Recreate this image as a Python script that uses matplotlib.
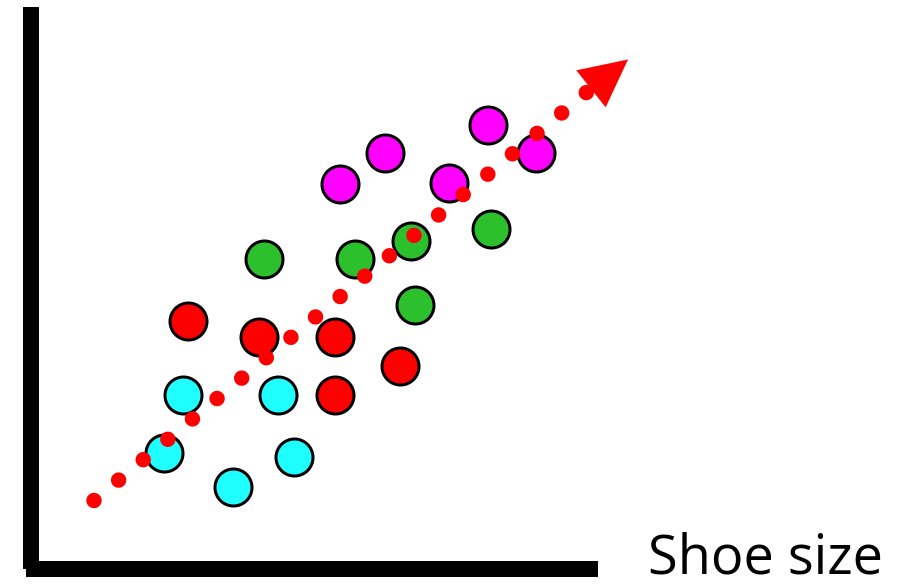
import matplotlib
matplotlib.use("Agg")
import matplotlib.pyplot as plt
from matplotlib.patches import FancyArrowPatch, ArrowStyle

# Point positions (x = shoe size axis units, y = vertical axis units)
cyan_x = [133, 152, 202, 247, 263]
cyan_y = [116, 174, 82, 174, 112]

red_x = [157, 228, 304, 369, 304]
red_y = [248, 232, 232, 203, 174]

green_x = [233, 324, 380, 384, 460]
green_y = [310, 310, 328, 264, 340]

magenta_x = [309, 354, 418, 457, 505]
magenta_y = [385, 416, 386, 444, 416]

# Trend line: start, end of dotted part, arrow tip
trend_x = [63, 556]
trend_y = [68, 476.5]
arrow_tip = (597, 509)

AX_W, AX_H = 878, 561.5

fig = plt.figure(figsize=(9.09, 5.88), dpi=100)
ax = fig.add_axes([31 / 909, 19.5 / 588, AX_W / 909, AX_H / 588])
ax.set_xlim(0, AX_W)
ax.set_ylim(0, AX_H)
ax.set_xticks([])
ax.set_yticks([])
for side in ("top", "right"):
    ax.spines[side].set_visible(False)
for side in ("left", "bottom"):
    sp = ax.spines[side]
    sp.set_linewidth(16 * 0.72)
    sp.set_capstyle("butt")
    sp.set_color("black")
ax.spines["bottom"].set_bounds(-5, 567)
ax.spines["left"].set_bounds(0, AX_H)

dot_size = (37 * 0.72) ** 2
edge_lw = 3 * 0.72
for xs, ys, c in [(cyan_x, cyan_y, "#1FFFFF"),
                  (red_x, red_y, "#FF0000"),
                  (green_x, green_y, "#2DC02D"),
                  (magenta_x, magenta_y, "#FF00FF")]:
    ax.scatter(xs, ys, s=dot_size, c=c, edgecolors="black",
               linewidths=edge_lw, zorder=3, clip_on=False)

# Arrow head at the end of the trend line
head = ArrowStyle("-|>", head_length=47 * 0.72, head_width=23.5 * 0.72)
arrow = FancyArrowPatch((trend_x[1], trend_y[1]), arrow_tip, arrowstyle=head,
                        mutation_scale=1, shrinkA=0, shrinkB=0,
                        color="#FF0000", linewidth=0.1, zorder=4, clip_on=False)
ax.add_patch(arrow)

# Dotted red trend line of round dots
lw_pt = 15.5 * 0.72
gap = 31.95 * 0.72 / lw_pt
ax.plot(trend_x, trend_y, color="#FF0000", linewidth=lw_pt,
        dashes=(0.001, gap), dash_capstyle="round", solid_capstyle="round",
        zorder=5, clip_on=False)

ax.text(617, -4.5, "Shoe size", fontsize=39, family="Open Sans",
        ha="left", va="baseline", color="black", clip_on=False)

fig.savefig("out.png", dpi=100, facecolor="white")
